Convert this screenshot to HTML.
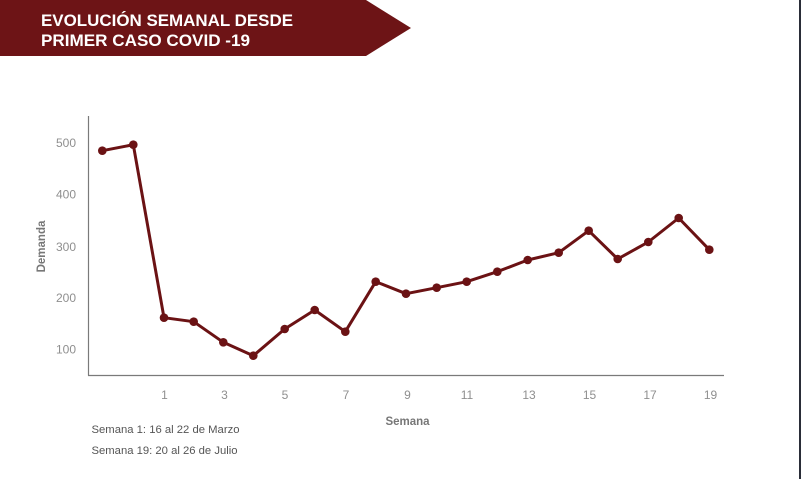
<!DOCTYPE html>
<html>
<head>
<meta charset="utf-8">
<style>
  html,body{margin:0;padding:0;background:#ffffff;}
  body{width:801px;height:479px;overflow:hidden;position:relative;}
  svg{position:absolute;left:0;top:0;}
</style>
</head>
<body>
<svg width="801" height="479" viewBox="0 0 801 479" xmlns="http://www.w3.org/2000/svg">
  <rect x="0" y="0" width="801" height="479" fill="#ffffff"/>
  <!-- right dark border -->
  <rect x="799" y="0" width="2" height="479" fill="#2a2d38"/>

  <!-- title banner -->
  <polygon points="0,0 366,0 411,28 366,56 0,56" fill="#6d1416"/>
  <text x="41" y="26" font-family="Liberation Sans, sans-serif" font-weight="bold" font-size="17" fill="#ffffff" textLength="252" lengthAdjust="spacingAndGlyphs">EVOLUCIÓN SEMANAL DESDE</text>
  <text x="41" y="46" font-family="Liberation Sans, sans-serif" font-weight="bold" font-size="17" fill="#ffffff" textLength="209" lengthAdjust="spacingAndGlyphs">PRIMER CASO COVID -19</text>

  <!-- axes -->
  <line x1="88.5" y1="116" x2="88.5" y2="375.5" stroke="#7a7a7a" stroke-width="1.2"/>
  <line x1="88" y1="375.5" x2="724" y2="375.5" stroke="#7a7a7a" stroke-width="1.2"/>

  <!-- y tick labels -->
  <g font-family="Liberation Sans, sans-serif" font-size="12" fill="#8f8f8f" text-anchor="end">
    <text x="76" y="147">500</text>
    <text x="76" y="198.5">400</text>
    <text x="76" y="251">300</text>
    <text x="76" y="302">200</text>
    <text x="76" y="353.5">100</text>
  </g>

  <!-- y axis title -->
  <text transform="translate(45,246.5) rotate(-90)" font-family="Liberation Sans, sans-serif" font-weight="bold" font-size="11.5" fill="#777777" text-anchor="middle">Demanda</text>

  <!-- x tick labels -->
  <g font-family="Liberation Sans, sans-serif" font-size="12" fill="#8f8f8f" text-anchor="middle">
    <text x="164.5" y="399">1</text>
    <text x="224.5" y="399">3</text>
    <text x="285" y="399">5</text>
    <text x="346" y="399">7</text>
    <text x="407.5" y="399">9</text>
    <text x="467" y="399">11</text>
    <text x="529" y="399">13</text>
    <text x="589.5" y="399">15</text>
    <text x="650" y="399">17</text>
    <text x="710.5" y="399">19</text>
  </g>

  <!-- x axis title -->
  <text x="407.5" y="425" font-family="Liberation Sans, sans-serif" font-weight="bold" font-size="11.5" fill="#777777" text-anchor="middle">Semana</text>

  <!-- notes -->
  <text x="91.5" y="433" font-family="Liberation Sans, sans-serif" font-size="11.3" fill="#555555" textLength="148" lengthAdjust="spacingAndGlyphs">Semana 1: 16 al 22 de Marzo</text>
  <text x="91.5" y="454" font-family="Liberation Sans, sans-serif" font-size="11.3" fill="#555555" textLength="146" lengthAdjust="spacingAndGlyphs">Semana 19: 20 al 26 de Julio</text>

  <!-- series -->
  <polyline fill="none" stroke="#6b1214" stroke-width="3" stroke-linejoin="round"
    points="102.3,150.7 133.3,144.7 164,317.7 193.7,321.7 223.3,342.3 253.3,355.7 284.7,329 314.7,310 345.3,331.7 375.7,281.7 406,293.7 436.7,287.7 466.7,281.7 497.3,271.7 527.7,260 558.7,252.7 588.7,230.7 617.7,259 648.3,242 678.7,218 709.3,249.7"/>
  <g fill="#6b1214">
    <circle cx="102.3" cy="150.7" r="4.3"/>
    <circle cx="133.3" cy="144.7" r="4.3"/>
    <circle cx="164" cy="317.7" r="4.3"/>
    <circle cx="193.7" cy="321.7" r="4.3"/>
    <circle cx="223.3" cy="342.3" r="4.3"/>
    <circle cx="253.3" cy="355.7" r="4.3"/>
    <circle cx="284.7" cy="329" r="4.3"/>
    <circle cx="314.7" cy="310" r="4.3"/>
    <circle cx="345.3" cy="331.7" r="4.3"/>
    <circle cx="375.7" cy="281.7" r="4.3"/>
    <circle cx="406" cy="293.7" r="4.3"/>
    <circle cx="436.7" cy="287.7" r="4.3"/>
    <circle cx="466.7" cy="281.7" r="4.3"/>
    <circle cx="497.3" cy="271.7" r="4.3"/>
    <circle cx="527.7" cy="260" r="4.3"/>
    <circle cx="558.7" cy="252.7" r="4.3"/>
    <circle cx="588.7" cy="230.7" r="4.3"/>
    <circle cx="617.7" cy="259" r="4.3"/>
    <circle cx="648.3" cy="242" r="4.3"/>
    <circle cx="678.7" cy="218" r="4.3"/>
    <circle cx="709.3" cy="249.7" r="4.3"/>
  </g>
</svg>
</body>
</html>
